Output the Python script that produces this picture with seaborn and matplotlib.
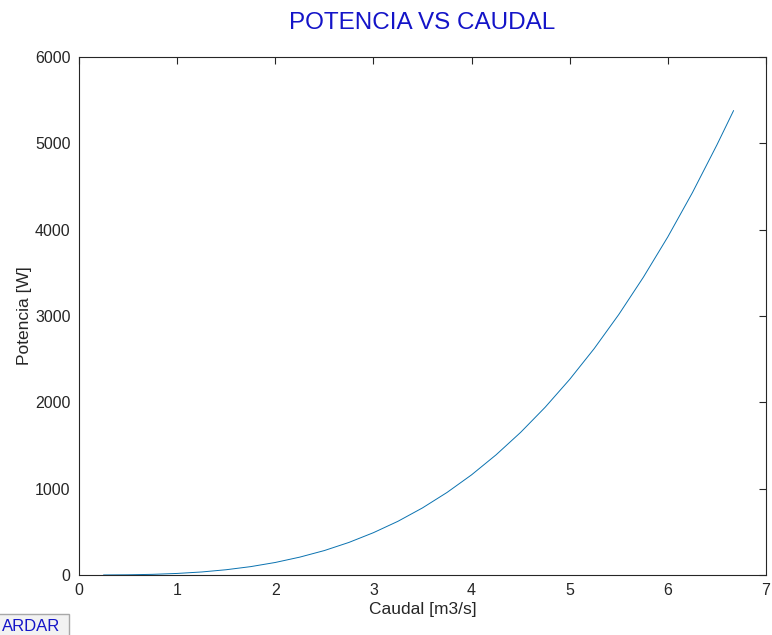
import matplotlib
matplotlib.use("Agg")
import matplotlib.pyplot as plt
import seaborn as sns
import pandas as pd
from matplotlib.patches import Rectangle

# caudal [m3/s] y potencia [W]
caudal = [0.25, 0.5, 0.75, 1.0, 1.25, 1.5, 1.75, 2.0, 2.25, 2.5, 2.75, 3.0, 3.25,
          3.5, 3.75, 4.0, 4.25, 4.5, 4.75, 5.0, 5.25, 5.5, 5.75, 6.0, 6.25, 6.5, 6.67]
potencia = [0.3, 2.3, 7.6, 18, 35, 61, 97, 145, 207, 283, 377, 490, 622,
            777, 956, 1160, 1392, 1652, 1943, 2266, 2623, 3017, 3448, 3917, 4428, 4982, 5380]

xticks = [0, 1, 2, 3, 4, 5, 6, 7]
yticks = [0, 1000, 2000, 3000, 4000, 5000, 6000]

df = pd.DataFrame({"Caudal": caudal, "Potencia": potencia})

sns.set_style("white")
plt.rcParams["font.family"] = ["Liberation Sans", "DejaVu Sans"]

fig = plt.figure(figsize=(7.72, 6.35), dpi=100)
ax = fig.add_axes([0.1023, 0.0945, 0.8899, 0.8157])

sns.lineplot(data=df, x="Caudal", y="Potencia", ax=ax, color="#0a72b0", linewidth=0.7)

ax.set_xlim(0, 7)
ax.set_ylim(0, 6000)
ax.set_xticks(xticks)
ax.set_yticks(yticks)
ax.tick_params(direction="in", top=True, right=True, length=5, width=0.8,
               labelsize=11.5, colors="#262626", pad=6)
for s in ax.spines.values():
    s.set_color("#262626")
    s.set_linewidth(0.8)

ax.set_xlabel("Caudal [m3/s]", fontsize=12.5, color="#262626", labelpad=3)
ax.set_ylabel("Potencia [W]", fontsize=12.5, color="#262626", labelpad=2)
ax.set_title("POTENCIA VS CAUDAL", fontsize=17.5, color="#1414c8", pad=20)

# boton (recortado en el borde de la figura)
fig.patches.append(Rectangle((-0.02, -0.02), 0.109, 0.053, transform=fig.transFigure,
                             facecolor="#f2f2f2", edgecolor="#a8a8a8", linewidth=1))
fig.text(0.002, 0.007, "ARDAR", ha="left", va="baseline", fontsize=12,
         color="#1414c8")

fig.savefig("out.png", dpi=100)
